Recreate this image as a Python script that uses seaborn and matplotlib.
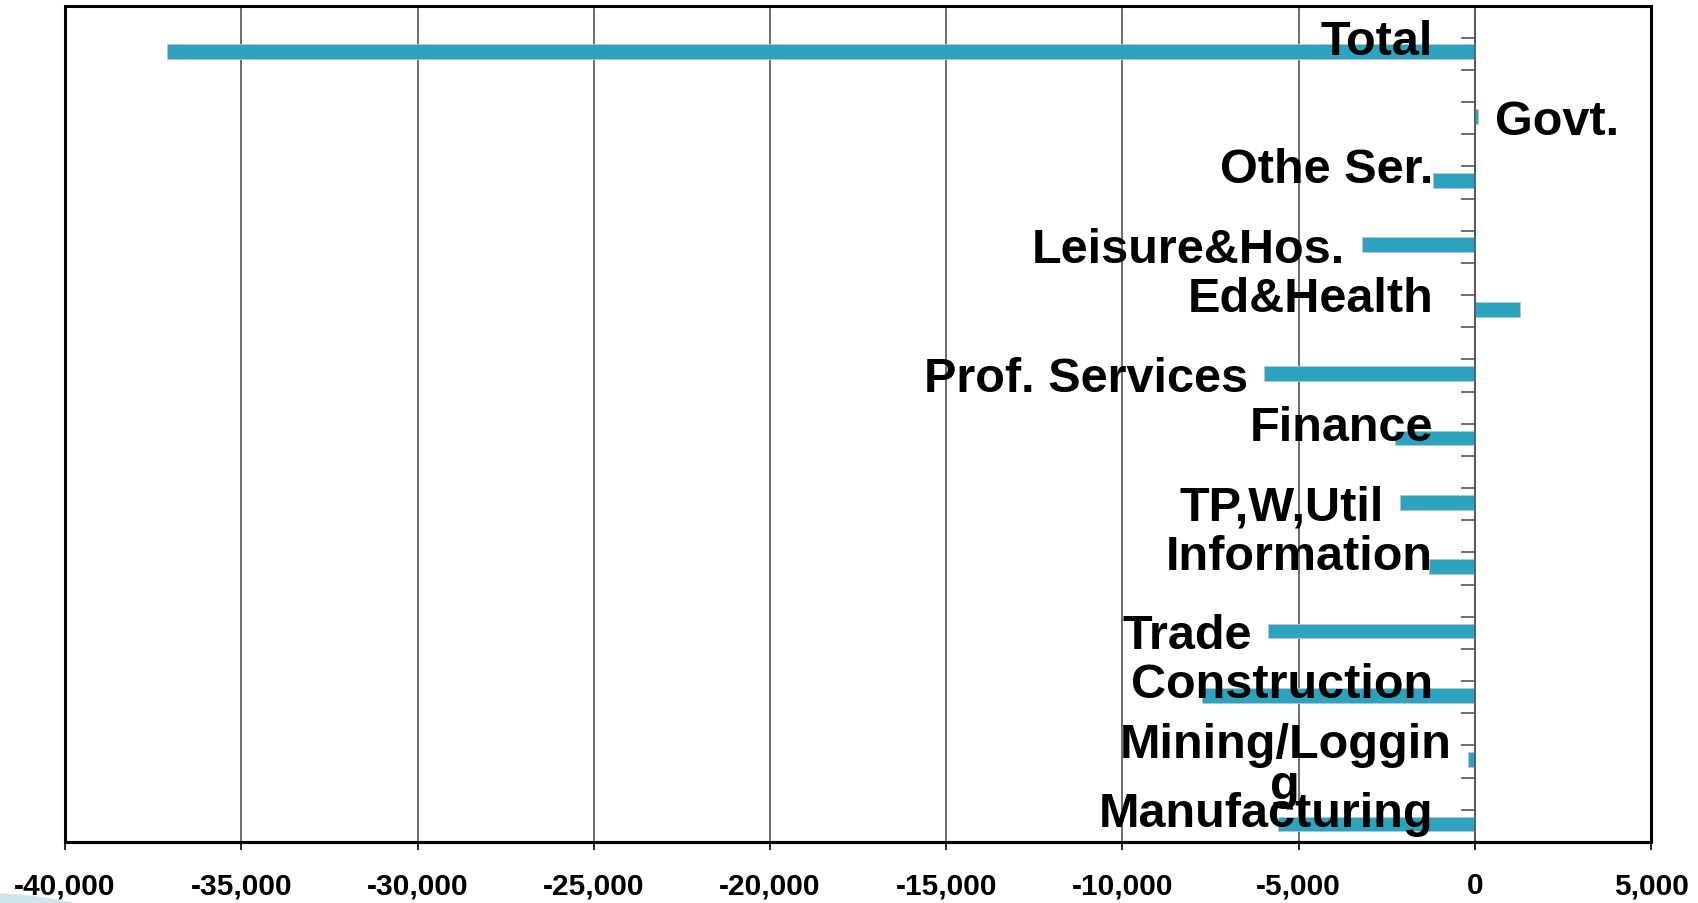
import numpy as np
import pandas as pd
import matplotlib
matplotlib.use('Agg')
import matplotlib.pyplot as plt
import seaborn as sns
from matplotlib.patches import Rectangle, Polygon

# job change by sector (thousands)
sectors = ['Total', 'Govt.', 'Othe Ser.', 'Leisure&Hos.', 'Ed&Health',
           'Prof. Services', 'Finance', 'TP,W,Util', 'Information', 'Trade',
           'Construction', 'Mining/Loggin\ng', 'Manufacturing']
change = [-37100, 90, -1200, -3200, 1280, -5970, -2280, -2110, -1300,
          -5860, -7750, -200, -5590]
x_ticks = [-40000, -35000, -30000, -25000, -20000, -15000, -10000,
           -5000, 0, 5000]

# where each data label sits: next to the zero line or past the bar end
label_mode = ['base', 'end', 'base', 'end', 'base', 'end', 'base', 'end',
              'base', 'end', 'base', 'base', 'base']

bar_color = '#2ea3bf'
grid_color = '#555555'

sns.set_style('white')
plt.rcParams['font.family'] = ['Liberation Sans', 'DejaVu Sans']
plt.rcParams['text.color'] = 'black'
plt.rcParams['xtick.color'] = 'black'

df = pd.DataFrame({'sector': sectors, 'change': change})

fig = plt.figure(figsize=(16.99, 9.04), dpi=100)
ax = fig.add_axes([0.0383, 0.0675, 0.9335, 0.9253])

sns.barplot(data=df, x='change', y='sector', orient='h', color=bar_color,
            saturation=1, width=0.23, edgecolor='#b8c6ca', linewidth=0.6,
            ax=ax)

n = len(sectors)
top, bottom = -0.72, n - 0.72
ax.set_xlim(-40000, 5000)
ax.set_ylim(bottom, top)
ax.set_axisbelow(True)
ax.grid(axis='x', color=grid_color, linewidth=1.2)
ax.grid(axis='y', visible=False)

ax.set_xticks(x_ticks, labels=[f'{v:,}' for v in x_ticks],
              fontweight='bold', fontsize=21.5)
ax.set_yticks(np.arange(top + 0.5, bottom - 0.1, 0.5))
ax.tick_params(axis='y', direction='out', length=10, width=1.2,
               color=grid_color, labelleft=False, left=True)
ax.tick_params(axis='x', direction='out', length=6, width=1.2,
               color='black', labelcolor='black', pad=15, bottom=True)
ax.set_xlabel('')
ax.set_ylabel('')

# category axis crosses at zero like in excel
ax.spines['left'].set_position(('data', 0))
ax.spines['left'].set_color(grid_color)
ax.spines['left'].set_linewidth(1.2)
for s in ['top', 'right']:
    ax.spines[s].set_visible(False)
ax.spines['bottom'].set_color('black')
ax.spines['bottom'].set_linewidth(2.2)
ax.add_patch(Rectangle((0, 0), 1, 1, transform=ax.transAxes, fill=False,
                       edgecolor='black', linewidth=2.2, clip_on=False,
                       zorder=5))

for i, (name, val, mode) in enumerate(zip(sectors, change, label_mode)):
    if mode == 'base':
        wrapped = '\n' in name
        ax.annotate(name, xy=(0, i + (0.6 if wrapped else 0.03)),
                    xytext=(-17 if wrapped else -30, 0),
                    textcoords='offset points', ha='right', va='baseline',
                    multialignment='center', linespacing=0.88,
                    fontsize=35, fontweight='bold', color='black', zorder=6)
    else:
        side = 1 if val > 0 else -1
        ax.annotate(name, xy=(val, i + 0.27), xytext=(side * 12, 0),
                    textcoords='offset points',
                    ha='left' if side > 0 else 'right', va='baseline',
                    fontsize=35, fontweight='bold', color='black', zorder=6)

# bit of the slide template swirl in the corner
fig.add_artist(Polygon([(0, 0.011), (0.02, 0.008), (0.045, 0.0), (0, 0.0)],
                       closed=True, transform=fig.transFigure,
                       facecolor='#cfe5ee', edgecolor='none'))

fig.savefig('out.png', dpi=100)
